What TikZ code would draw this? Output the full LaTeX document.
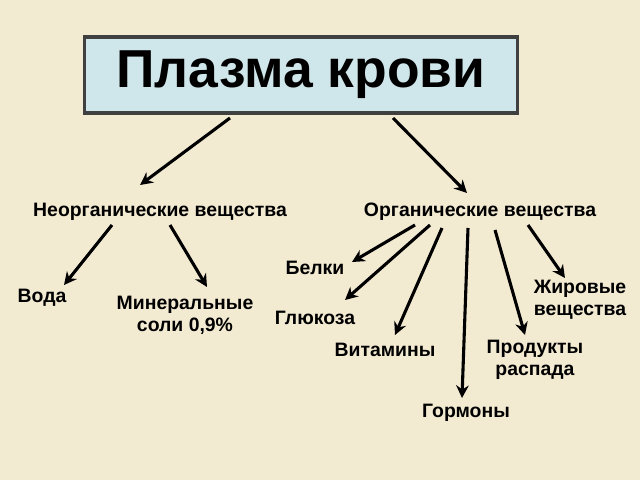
\documentclass[tikz,border=0pt]{standalone}
\usepackage{fontspec}
\setmainfont{Liberation Sans}
\usetikzlibrary{arrows.meta}
\definecolor{paper}{HTML}{F3EAD2}
\definecolor{titlefill}{HTML}{CFE6EA}
\tikzset{
  lbl/.style={font=\bfseries\fontsize{13.8}{15.5}\selectfont, align=center, inner sep=1pt},
  arr/.style={line width=2.2pt, -{Stealth[length=9pt,width=9pt]}}
}
\begin{document}
\begin{tikzpicture}[x=0.025cm,y=-0.025cm]
  \fill[paper] (0,0) rectangle (640,480);
  \useasboundingbox (0,0) rectangle (640,480);
  \node (title) [draw=black!75,line width=2.5pt,fill=titlefill,minimum width=433*0.025cm,minimum height=76*0.025cm,font=\bfseries\fontsize{38}{42}\selectfont] at (301,75) {Плазма крови};
  \node (inorg) [lbl] at (160,212) {Неорганические вещества};
  \node (org) [lbl] at (480,212) {Органические вещества};
  \node (belki) [lbl] at (315,268) {Белки};
  \node (voda) [lbl] at (42,298) {Вода};
  \node (miner) [lbl] at (185,315) {Минеральные\\соли 0,9\%};
  \node (gluk) [lbl] at (315,318) {Глюкоза};
  \node (zhir) [lbl] at (580,300) {Жировые\\вещества};
  \node (vitam) [lbl] at (385,350) {Витамины};
  \node (prod) [lbl] at (535,360) {Продукты\\распада};
  \node (gorm) [lbl] at (466,413) {Гормоны};
  % arrows
  \coordinate (t1) at (230,118);
  \coordinate (t2) at (393,118);
  \draw[arr] (t1) -- (140,185);
  \draw[arr] (t2) -- (467,193);
  \draw[arr] (112,225) -- (64,285);
  \draw[arr] (170,225) -- (207,287);
  \draw[arr] (415,225) -- (352,262);
  \draw[arr] (430,225) -- (345,300);
  \draw[arr] (442,228) -- (395,335);
  \draw[arr] (468,228) -- (462,398);
  \draw[arr] (495,230) -- (525,335);
  \draw[arr] (528,225) -- (565,278);
\end{tikzpicture}
\end{document}
